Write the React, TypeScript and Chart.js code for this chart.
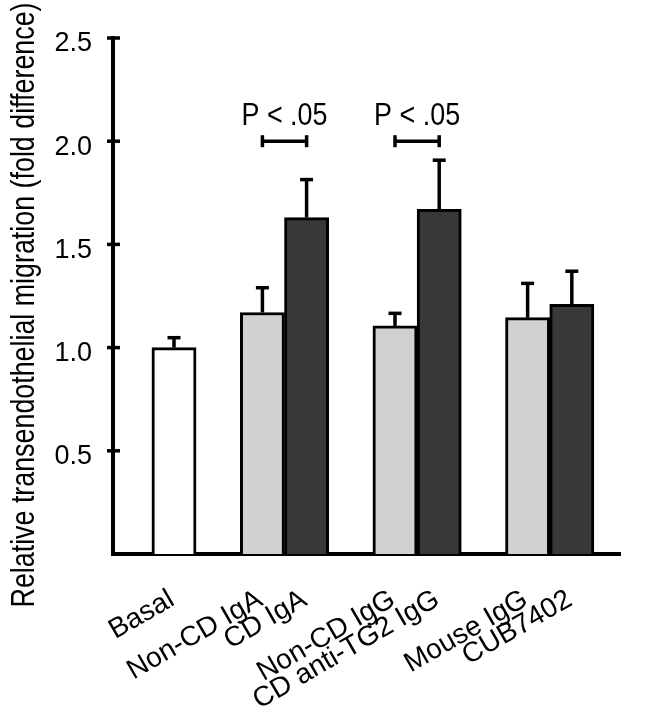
import React, { useEffect, useRef } from 'react';
import { Chart, registerables } from 'chart.js';

Chart.register(...registerables);

// ---- data ----
const categories = ['Basal', 'Non-CD IgA', 'CD IgA', 'Non-CD IgG', 'CD anti-TG2 IgG', 'Mouse IgG', 'CUB7402'];
const groupIndex = [0, 1, 1, 2, 2, 3, 3];
const seriesKind = ['basal', 'control', 'treated', 'control', 'treated', 'control', 'treated'];
const means = [1.0, 1.17, 1.63, 1.105, 1.67, 1.145, 1.21];
const errors = [0.048, 0.12, 0.184, 0.061, 0.238, 0.166, 0.16];
const yTickValues = [0.5, 1.0, 1.5, 2.0, 2.5];
const comparisons = [
  { from: 'Non-CD IgA', to: 'CD IgA', level: 2.0, label: 'P < .05' },
  { from: 'Non-CD IgG', to: 'CD anti-TG2 IgG', level: 2.0, label: 'P < .05' },
];
const yTitle = 'Relative transendothelial migration (fold difference)';

// ---- styling ----
const FONT = "'Liberation Sans', Arial, sans-serif";
const kindColor: Record<string, string> = { basal: '#ffffff', control: '#d1d1d1', treated: '#383838' };
const W = 661;
const H = 708;

// bar slots: one empty slot between groups
const slots = categories.map((_, i) => i + groupIndex[i]);
const marginLeft = 0.88;
const marginRight = 0.59;

const overlay = {
  id: 'overlay',
  afterDatasetsDraw(chart: any) {
    const ctx = chart.ctx;
    const meta = chart.getDatasetMeta(0);
    const y = chart.scales.y;
    const area = chart.chartArea;
    ctx.save();
    ctx.strokeStyle = '#000';
    ctx.fillStyle = '#000';
    ctx.lineWidth = 3.5;
    ctx.lineCap = 'butt';
    const line = (x1: number, y1: number, x2: number, y2: number) => {
      ctx.beginPath();
      ctx.moveTo(x1, y1);
      ctx.lineTo(x2, y2);
      ctx.stroke();
    };
    // error bars (upper only)
    meta.data.forEach((el: any, i: number) => {
      const top = y.getPixelForValue(means[i] + errors[i]);
      line(el.x, el.y, el.x, top);
      line(el.x - 6.5, top, el.x + 6.5, top);
    });
    // y tick marks crossing the axis
    yTickValues.forEach((v) => {
      const py = y.getPixelForValue(v);
      line(area.left - 6, py, area.left + 7, py);
    });
    // significance brackets
    comparisons.forEach((c) => {
      const a = meta.data[categories.indexOf(c.from)];
      const b = meta.data[categories.indexOf(c.to)];
      const py = y.getPixelForValue(c.level);
      line(a.x, py, b.x, py);
      line(a.x, py - 6, a.x, py + 6);
      line(b.x, py - 6, b.x, py + 6);
      ctx.font = `32px ${FONT}`;
      ctx.textAlign = 'center';
      ctx.textBaseline = 'alphabetic';
      ctx.fillText(c.label, (a.x + b.x) / 2, py - 16, 86);
    });
    // y axis title
    ctx.save();
    ctx.translate(34, (area.top + area.bottom) / 2 + 9);
    ctx.rotate(-Math.PI / 2);
    ctx.font = `33px ${FONT}`;
    ctx.textAlign = 'center';
    ctx.textBaseline = 'alphabetic';
    ctx.fillText(yTitle, 0, 0, 605);
    ctx.restore();
    ctx.restore();
  },
};

export default function App() {
  const ref = useRef<HTMLCanvasElement | null>(null);
  useEffect(() => {
    if (!ref.current) return;
    const chart = new Chart(ref.current, {
      type: 'bar',
      data: {
        datasets: [
          {
            data: categories.map((_, i) => ({ x: slots[i], y: means[i] })),
            backgroundColor: seriesKind.map((k) => kindColor[k]),
            borderColor: '#000',
            borderWidth: 3,
            borderSkipped: 'start',
            barPercentage: 1,
            categoryPercentage: 1,
          },
        ],
      },
      options: {
        animation: false,
        responsive: true,
        maintainAspectRatio: false,
        layout: { padding: { top: 38, right: 41, bottom: 0, left: 0 } },
        plugins: { legend: { display: false }, tooltip: { enabled: false } },
        scales: {
          x: {
            type: 'linear',
            offset: false,
            min: slots[0] - 0.5 - marginLeft,
            max: slots[slots.length - 1] + 0.5 + marginRight,
            afterBuildTicks: (s: any) => {
              s.ticks = slots.map((v) => ({ value: v }));
            },
            afterFit: (s: any) => {
              s.height = 154;
            },
            grid: { display: false, drawTicks: false },
            border: { display: true, color: '#000', width: 4 },
            ticks: {
              autoSkip: false,
              minRotation: 30,
              maxRotation: 30,
              padding: 29,
              labelOffset: -2,
              color: '#000',
              font: { family: FONT, size: 28 },
              callback: (v: any) => {
                const i = slots.indexOf(Number(v));
                return i >= 0 ? categories[i] : '';
              },
            },
          },
          y: {
            min: 0,
            max: 2.5,
            afterFit: (s: any) => {
              s.width = 113;
            },
            grid: { display: false, drawTicks: false },
            border: { display: true, color: '#000', width: 4 },
            ticks: {
              stepSize: 0.5,
              padding: 21,
              labelOffset: 6,
              color: '#000',
              font: { family: FONT, size: 27 },
              callback: (v: any) => (Number(v) === 0 ? '' : Number(v).toFixed(1)),
            },
          },
        },
      },
      plugins: [overlay],
    });
    return () => chart.destroy();
  }, []);
  return (
    <div style={{ position: 'fixed', left: 0, top: 0, width: W, height: H, background: '#fff' }}>
      <canvas ref={ref} />
    </div>
  );
}
